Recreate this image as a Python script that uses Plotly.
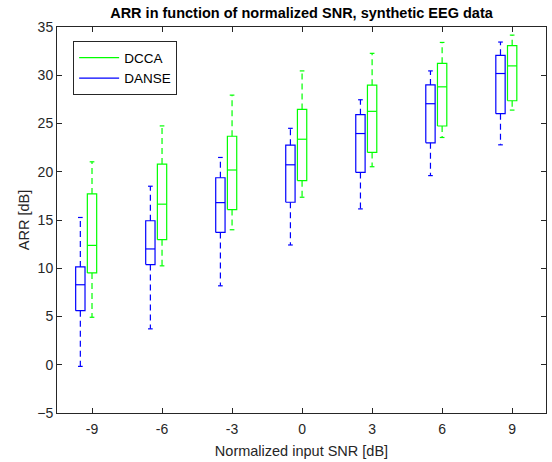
import plotly.graph_objects as go

snr = [-9, -6, -3, 0, 3, 6, 9]
tick_labels = ["-9", "-6", "-3", "0", "3", "6", "9"]

# DANSE box statistics
danse_low = [-0.17, 3.72, 8.18, 12.41, 16.15, 19.6, 22.79]
danse_q1 = [5.6, 10.38, 13.71, 16.84, 19.93, 23.0, 26.02]
danse_med = [8.29, 12.0, 16.8, 20.72, 23.96, 27.05, 30.18]
danse_q3 = [10.14, 14.92, 19.38, 22.75, 25.91, 29.0, 32.06]
danse_high = [15.26, 18.5, 21.48, 24.5, 27.46, 30.45, 33.44]

# DCCA box statistics
dcca_low = [4.92, 10.25, 13.99, 17.36, 20.52, 23.55, 26.39]
dcca_q1 = [9.52, 12.96, 16.08, 19.07, 22.0, 24.74, 27.36]
dcca_med = [12.37, 16.64, 20.18, 23.37, 26.26, 28.8, 30.97]
dcca_q3 = [17.7, 20.8, 23.68, 26.46, 28.97, 31.24, 33.06]
dcca_high = [21.03, 24.75, 27.94, 30.45, 32.27, 33.4, 34.16]

BOX_W = 0.4
CAP_W = 0.2
FONT = "Liberation Sans, Arial, Helvetica, sans-serif"


def add_boxes(fig, offset, low, q1, med, q3, high, color, name, rank):
    bx, by, mx, my, wx, wy, cx, cy = [], [], [], [], [], [], [], []
    for i, s in enumerate(snr):
        c = s + offset
        x0, x1 = c - BOX_W / 2, c + BOX_W / 2
        bx += [x0, x1, x1, x0, x0, None]
        by += [q1[i], q1[i], q3[i], q3[i], q1[i], None]
        mx += [x0, x1, None]
        my += [med[i], med[i], None]
        wx += [c, c, None, c, c, None]
        wy += [q3[i], high[i], None, q1[i], low[i], None]
        cx += [c - CAP_W / 2, c + CAP_W / 2, None, c - CAP_W / 2, c + CAP_W / 2, None]
        cy += [high[i], high[i], None, low[i], low[i], None]
    line = dict(color=color, width=1.2)
    fig.add_trace(go.Scatter(x=wx, y=wy, mode="lines", showlegend=False,
                             line=dict(color=color, width=1.2, dash="6px,4px"), hoverinfo="skip"))
    fig.add_trace(go.Scatter(x=cx, y=cy, mode="lines", showlegend=False, line=line, hoverinfo="skip"))
    fig.add_trace(go.Scatter(x=bx, y=by, mode="lines", showlegend=False, line=line, hoverinfo="skip"))
    fig.add_trace(go.Scatter(x=mx, y=my, mode="lines", name=name, showlegend=True,
                             legendrank=rank, line=line, hoverinfo="skip"))


fig = go.Figure()
add_boxes(fig, -0.5, danse_low, danse_q1, danse_med, danse_q3, danse_high, "#0000FF", "DANSE", 2)
add_boxes(fig, 0.0, dcca_low, dcca_q1, dcca_med, dcca_q3, dcca_high, "#00FF00", "DCCA", 1)

axis_common = dict(
    showline=True, linecolor="#262626", linewidth=1, mirror="allticks",
    ticks="inside", ticklen=5, tickcolor="#262626", showgrid=False, zeroline=False,
    tickfont=dict(family=FONT, size=14, color="#262626"),
)

fig.update_layout(
    width=552, height=462,
    margin=dict(l=57, r=5, t=27, b=47),
    paper_bgcolor="white", plot_bgcolor="white",
    title=dict(text="<b>ARR in function of normalized SNR, synthetic EEG data</b>",
               x=0.5, xref="paper", y=1, yref="container", yanchor="top", pad=dict(t=8),
               font=dict(family=FONT, size=14.5, color="black")),
    xaxis=dict(range=[-10.5, 10.45], tickvals=snr, ticktext=tick_labels,
               ticklabelstandoff=3,
               title=dict(text="Normalized input SNR [dB]", standoff=10,
                          font=dict(family=FONT, size=14.5, color="#262626")),
               **axis_common),
    yaxis=dict(range=[-5, 35], tickvals=[-5, 0, 5, 10, 15, 20, 25, 30, 35],
               ticklabelstandoff=0,
               title=dict(text="ARR [dB]", standoff=4,
                          font=dict(family=FONT, size=14.5, color="#262626")),
               **axis_common),
    legend=dict(x=0.033, y=0.963, xanchor="left", yanchor="top",
                bgcolor="white", bordercolor="#262626", borderwidth=1,
                font=dict(family=FONT, size=13.5, color="black"),
                tracegroupgap=0, itemwidth=40),
    showlegend=True,
)

fig.write_html("out.html")
